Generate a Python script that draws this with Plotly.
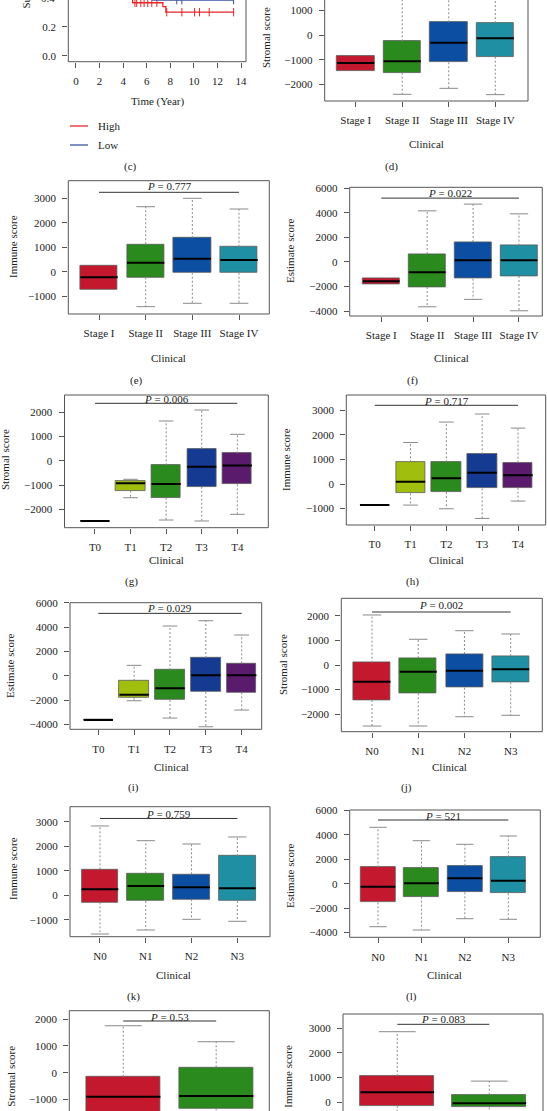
import plotly.graph_objects as go

W, H = 547, 1111
FONT = "Liberation Serif"

# ---------------- data ----------------
# (c) Kaplan-Meier curves (only lower part visible in this crop)
km_high_time = [0, 0.4, 0.9, 1.5, 2.1, 2.7, 3.3, 3.9, 4.4, 4.8, 7.37, 7.62, 13.4]
km_high_surv = [1.0, 0.96, 0.90, 0.83, 0.75, 0.67, 0.59, 0.52, 0.45, 0.365, 0.338, 0.30, 0.30]
km_high_cens = [5.0, 5.15, 5.5, 5.78, 6.09, 6.43, 6.86, 7.7, 8.98, 10.06, 10.48, 11.3, 13.37]
km_low_time = [0, 0.6, 1.3, 2.0, 2.8, 3.6, 4.5, 5.4, 6.5, 13.4]
km_low_surv = [1.0, 0.95, 0.88, 0.80, 0.71, 0.62, 0.54, 0.47, 0.383, 0.383]
km_low_cens = [8.55, 8.98, 13.37]
km_groups = ["High", "Low"]

stage_cats = ["Stage I", "Stage II", "Stage III", "Stage IV"]
t_cats = ["T0", "T1", "T2", "T3", "T4"]
n_cats = ["N0", "N1", "N2", "N3"]
m_cats = ["M0", "M1"]

# (d) Stromal score by stage
d_lw = [-1440, -2391, -2150, -2404]
d_q1 = [-1440, -1520, -1100, -875]
d_med = [-1129, -1060, -310, -133]
d_q3 = [-847, -254, 512, 484]
d_uw = [-847, 1700, 2050, 2050]

# (e) Immune score by stage
e_lw = [-721, -1434, -1295, -1295]
e_q1 = [-721, -230, -41, -41]
e_med = [-230, 369, 533, 480]
e_q3 = [246, 1123, 1381, 1025]
e_uw = [246, 2664, 3008, 2570]

# (f) Estimate score by stage
f_lw = [-1820, -3649, -3045, -3975]
f_q1 = [-1820, -2041, -1363, -1143]
f_med = [-1576, -841, 136, 136]
f_q3 = [-1363, 653, 1633, 1333]
f_uw = [-1363, 4163, 4710, 3918]

# (g) Stromal score by T
g_lw = [-2481, -1523, -2440, -2481, -2206]
g_q1 = [-2481, -1235, -1523, -1070, -971]
g_med = [-2481, -930, -959, -247, -200]
g_q3 = [-2481, -835, -190, 494, 300]
g_uw = [-2481, -765, 1634, 2086, 1086]

# (h) Immune score by T
h_lw = [-857, -857, -1008, -1400, -694]
h_q1 = [-857, -380, -327, -176, -151]
h_med = [-857, 94, 233, 462, 351]
h_q3 = [-857, 886, 886, 1212, 869]
h_uw = [-857, 1686, 2518, 2845, 2273]

# (i) Estimate score by T
i_lw = [-3646, -2058, -3481, -4198, -2823]
i_q1 = [-3646, -1811, -2000, -1342, -1366]
i_med = [-3646, -1564, -1037, 33, 33]
i_q3 = [-3646, -412, 469, 1457, 1021]
i_uw = [-3646, 856, 4091, 4527, 3350]

# (j) Stromal score by N
j_lw = [-2480, -2480, -2102, -2045]
j_q1 = [-1423, -1150, -923, -703]
j_med = [-679, -272, -232, -175]
j_q3 = [94, 285, 447, 366]
j_uw = [2033, 1045, 1394, 1260]

# (k) Immune score by N
k_lw = [-1580, -1416, -980, -1061]
k_q1 = [-286, -233, -163, -233]
k_med = [245, 380, 327, 286]
k_q3 = [1061, 898, 857, 1604]
k_uw = [2829, 2229, 2094, 2380]

# (l) Estimate score by N
l_lw = [-3525, -3795, -2869, -2918]
l_q1 = [-1525, -1066, -705, -787]
l_med = [-246, 33, 443, 246]
l_q3 = [1344, 1311, 1475, 2164]
l_uw = [4623, 3525, 3230, 3910]

# (m) Stromal score by M
m_lw = [-2450, -2100]
m_q1 = [-1700, -1330]
m_med = [-896, -870]
m_q3 = [-149, 201]
m_uw = [1754, 1157]

# (n) Immune score by M
n_lw = [-1400, -900]
n_q1 = [-150, -215]
n_med = [398, -53]
n_q3 = [1061, 297]
n_uw = [2862, 850]

p_values = {"d": None, "e": "0.777", "f": "0.022", "g": "0.006", "h": "0.717",
            "i": "0.029", "j": "0.002", "k": "0.759", "l": "521", "m": "0.53", "n": "0.083"}

# ---------------- styles ----------------
RED, GREEN, BLUE, TEAL = "#C3182E", "#2B8A1E", "#0C4EA2", "#1F90A3"
YG, NAVY, PURPLE = "#A0BE0E", "#153A92", "#5A1B6C"
stage_colors = [RED, GREEN, BLUE, TEAL]
t_colors = ["#777777", YG, GREEN, NAVY, PURPLE]
m_colors = [RED, GREEN]
KM_COLORS = ["#E8262A", "#3A55A0"]
FRAME = "#555555"
TXT = "#222222"


def px(x):
    return x / W


def py(y):
    return 1 - y / H


fig = go.Figure()
layout = dict(width=W, height=H, margin=dict(l=0, r=0, t=0, b=0, autoexpand=False),
              paper_bgcolor="white", plot_bgcolor="white", showlegend=False,
              font=dict(family=FONT, size=11, color=TXT))
shapes, annotations = [], []


def names(k):
    s = "" if k == 1 else str(k)
    return "x" + s, "y" + s, "xaxis" + s, "yaxis" + s


def ann(text, x, y, **kw):
    d = dict(text=text, x=px(x), y=py(y), xref="paper", yref="paper", showarrow=False,
             font=dict(family=FONT, size=11, color=TXT), xanchor="center", yanchor="middle")
    d.update(kw)
    annotations.append(d)


def set_axes(k, frame, xr, yr, xtickvals, xticktext, ydtick, ytickformat=None, cut=None):
    xa, ya, xk, yk = names(k)
    l, t, r, b = frame
    tick = dict(ticks="outside", ticklen=5, tickwidth=1, tickcolor=FRAME, showline=False,
                showgrid=False, zeroline=False, automargin=False,
                tickfont=dict(family=FONT, size=11, color=TXT))
    layout[xk] = dict(domain=[px(l), px(r)], range=list(xr), anchor=ya, tickmode="array",
                      tickvals=xtickvals, ticktext=xticktext, ticklabelstandoff=4,
                      showticklabels=(cut != "bottom"), **tick)
    yd = dict(domain=[py(b), py(t)], range=list(yr), anchor=xa, dtick=ydtick, tick0=0,
              ticklabelstandoff=4, **tick)
    if ytickformat:
        yd["tickformat"] = ytickformat
    layout[yk] = yd
    y0, y1 = 0, 1
    if cut == "top":
        y1 = 1.3
    if cut == "bottom":
        y0 = -0.3
    shapes.append(dict(type="rect", xref=xa + " domain", yref=ya + " domain", x0=0, x1=1,
                       y0=y0, y1=y1, line=dict(color=FRAME, width=1), layer="above"))


# ---------- (c) survival ----------
def surv_at(times, survs, t):
    s = survs[0]
    for ti, si in zip(times, survs):
        if ti <= t:
            s = si
    return s


set_axes(1, (68.3, 0, 246, 61.7), (-0.65, 14.42), (-0.041, 0.384),
         list(range(0, 15, 2)), [str(v) for v in range(0, 15, 2)], 0.2, ".1f", cut="top")
for times, survs, cens, col, name in [(km_high_time, km_high_surv, km_high_cens, KM_COLORS[0], km_groups[0]),
                                      (km_low_time, km_low_surv, km_low_cens, KM_COLORS[1], km_groups[1])]:
    fig.add_trace(go.Scatter(x=times, y=survs, mode="lines", line=dict(color=col, width=1.3, shape="hv"),
                             name=name, xaxis="x", yaxis="y"))
    fig.add_trace(go.Scatter(x=cens, y=[surv_at(times, survs, c) for c in cens], mode="markers",
                             marker=dict(symbol="line-ns", size=6, line=dict(color=col, width=1)),
                             xaxis="x", yaxis="y", cliponaxis=True))
ann("Time (Year)", 158, 101)
ann("Survival probability", 25, 11, textangle=-90, yanchor="bottom")
ann("0.4", 57, -2.3, xanchor="right")
for j, g in enumerate(km_groups):
    yy = 126 + 19 * j
    shapes.append(dict(type="line", xref="paper", yref="paper", x0=px(70), x1=px(88), y0=py(yy), y1=py(yy),
                       line=dict(color=KM_COLORS[j], width=1.3)))
    ann(g, 96, yy, xanchor="left")

# ---------- box panels ----------
box_panels = [
    dict(k=2, key="d", cats=stage_cats, data=(d_lw, d_q1, d_med, d_q3, d_uw), colors=stage_colors,
         frame=(324.7, 0, 528, 101), xr=(-0.666, 3.703), yr=(-2661, 1411), dtick=1000, bw=0.8,
         cut="top", pline=None, title="Stromal score", title_xy=(266, 38), clin=(426, 144), lab=None),
    dict(k=3, key="e", cats=stage_cats, data=(e_lw, e_q1, e_med, e_q3, e_uw), colors=stage_colors,
         frame=(68.3, 180.7, 269.3, 314), xr=(-0.658, 3.649), yr=(-1734, 3730), dtick=1000, bw=0.8,
         cut=None, pline=(3254, 3512), title="Immune score", title_xy=(13, 247), clin=(168.3, 357.7),
         lab=("(c)", 130, 166.7)),
    dict(k=4, key="f", cats=stage_cats, data=(f_lw, f_q1, f_med, f_q3, f_uw), colors=stage_colors,
         frame=(349.7, 187.3, 542.3, 316), xr=(-0.688, 3.508), yr=(-4400, 6080), dtick=2000, bw=0.8,
         cut=None, pline=(5200, 5608), title="Estimate score", title_xy=(290, 251), clin=(451.3, 357.7),
         lab=("(d)", 391, 166.7)),
    dict(k=5, key="g", cats=t_cats, data=(g_lw, g_q1, g_med, g_q3, g_uw), colors=t_colors,
         frame=(64.5, 395, 268.3, 527.7), xr=(-0.857, 4.871), yr=(-2757, 2704), dtick=1000, bw=0.82,
         cut=None, pline=(2362, 2539), title="Stromal score", title_xy=(5, 460), clin=(166.7, 560),
         lab=("(e)", 136.7, 380)),
    dict(k=6, key="h", cats=t_cats, data=(h_lw, h_q1, h_med, h_q3, h_uw), colors=t_colors,
         frame=(346.3, 395, 545.7, 525), xr=(-0.793, 4.773), yr=(-1667, 3618), dtick=1000, bw=0.82,
         cut=None, pline=(3199, 3386), title="Immune score", title_xy=(286, 460), clin=(446.3, 560),
         lab=("(f)", 412.3, 380)),
    dict(k=7, key="i", cats=t_cats, data=(i_lw, i_q1, i_med, i_q3, i_uw), colors=t_colors,
         frame=(70, 602.7, 261.7, 729.3), xr=(-0.789, 4.558), yr=(-4408, 6010), dtick=2000, bw=0.82,
         cut=None, pline=(5132, 5543), title="Estimate score", title_xy=(10, 666), clin=(171.7, 766.7),
         lab=("(g)", 131.7, 581.7)),
    dict(k=8, key="j", cats=n_cats, data=(j_lw, j_q1, j_med, j_q3, j_uw), colors=stage_colors,
         frame=(341.3, 598.3, 542.3, 731.7), xr=(-0.664, 3.684), yr=(-2711, 2711), dtick=1000, bw=0.8,
         cut=None, pline=(2154, 2439), title="Stromal score", title_xy=(283, 665), clin=(449.7, 766.7),
         lab=("(h)", 412.3, 581.7)),
    dict(k=9, key="k", cats=n_cats, data=(k_lw, k_q1, k_med, k_q3, k_uw), colors=stage_colors,
         frame=(70, 806.7, 270, 936.7), xr=(-0.655, 3.714), yr=(-1690, 3616), dtick=1000, bw=0.8,
         cut=None, pline=(3135, 3318), title="Immune score", title_xy=(13, 869), clin=(173.3, 975),
         lab=("(i)", 133.3, 787.7)),
    dict(k=10, key="l", cats=n_cats, data=(l_lw, l_q1, l_med, l_q3, l_uw), colors=stage_colors,
         frame=(349.7, 810, 540.3, 937.3), xr=(-0.652, 3.737), yr=(-4393, 6041), dtick=2000, bw=0.8,
         cut=None, pline=(5221, 5574), title="Estimate score", title_xy=(290, 876), clin=(444.7, 975),
         lab=("(j)", 406.3, 787.7)),
    dict(k=11, key="m", cats=m_cats, data=(m_lw, m_q1, m_med, m_q3, m_uw), colors=m_colors,
         frame=(69.3, 1010.7, 269.3, 1111), xr=(-0.581, 1.572), yr=(-1431, 2316), dtick=1000, bw=0.8,
         cut="bottom", pline=(1931, 2092), title="Stromal score", title_xy=(11, 1076.7), clin=None,
         lab=("(k)", 133.3, 996.7)),
    dict(k=12, key="n", cats=m_cats, data=(n_lw, n_q1, n_med, n_q3, n_uw), colors=m_colors,
         frame=(343, 1014, 543, 1111), xr=(-0.59, 1.584), yr=(-366, 3582), dtick=1000, bw=0.8,
         cut="bottom", pline=(3162, 3366), title="Immune score", title_xy=(288, 1076.7), clin=None,
         lab=("(l)", 411.3, 996.7)),
]

for p in box_panels:
    k = p["k"]
    xa, ya, _, _ = names(k)
    n = len(p["cats"])
    xs = list(range(n))
    set_axes(k, p["frame"], p["xr"], p["yr"], xs, p["cats"], p["dtick"], cut=p["cut"])
    lw, q1, med, q3, uw = p["data"]
    bw = p["bw"]
    cw = bw / 4
    wx, wy, cx, cy, mx, my = [], [], [], [], [], []
    for i in xs:
        wx += [i, i, None, i, i, None]
        wy += [q3[i], uw[i], None, q1[i], lw[i], None]
        if uw[i] > q3[i]:
            cx += [i - cw, i + cw, None]
            cy += [uw[i], uw[i], None]
        if lw[i] < q1[i]:
            cx += [i - cw, i + cw, None]
            cy += [lw[i], lw[i], None]
        mx += [i - bw / 2, i + bw / 2, None]
        my += [med[i], med[i], None]
    fig.add_trace(go.Scatter(x=wx, y=wy, mode="lines", line=dict(color="#8a8a8a", width=1, dash="2px,2px"),
                             xaxis=xa, yaxis=ya, hoverinfo="skip"))
    fig.add_trace(go.Scatter(x=cx, y=cy, mode="lines", line=dict(color="#8a8a8a", width=1),
                             xaxis=xa, yaxis=ya, hoverinfo="skip"))
    fig.add_trace(go.Bar(x=xs, y=[b - a for a, b in zip(q1, q3)], base=q1, width=bw,
                         marker=dict(color=p["colors"], line=dict(color="#5a5a5a", width=0.8)),
                         xaxis=xa, yaxis=ya))
    fig.add_trace(go.Scatter(x=mx, y=my, mode="lines", line=dict(color="black", width=2),
                             xaxis=xa, yaxis=ya, hoverinfo="skip"))
    if p["pline"] is not None:
        ly, ty = p["pline"]
        shapes.append(dict(type="line", xref=xa, yref=ya, x0=0, x1=n - 1, y0=ly, y1=ly,
                           line=dict(color="#333333", width=1)))
        annotations.append(dict(text="<i>P</i> = " + p_values[p["key"]], x=(n - 1) / 2, y=ty, xref=xa, yref=ya,
                                showarrow=False, font=dict(family=FONT, size=11, color=TXT),
                                xanchor="center", yanchor="middle"))
    tx, tyy = p["title_xy"]
    ann(p["title"], tx, tyy, textangle=-90)
    if p["clin"]:
        ann("Clinical", *p["clin"])
    if p["lab"]:
        ann(p["lab"][0], p["lab"][1], p["lab"][2])

layout["shapes"] = shapes
layout["annotations"] = annotations
layout["bargap"] = 0
fig.update_layout(**layout)
fig.write_html("out.html", config={"displayModeBar": False},
               post_script="document.body.style.margin='0';document.body.style.overflow='hidden';")
